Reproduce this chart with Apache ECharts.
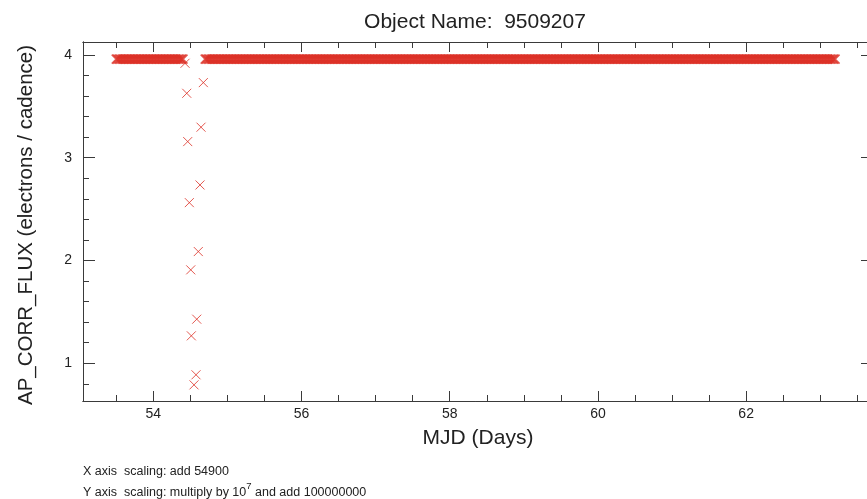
<!DOCTYPE html>
<html>
<head>
<meta charset="utf-8">
<script src="https://cdn.jsdelivr.net/npm/echarts@6/dist/echarts.min.js"></script>
<style>
  html, body { margin: 0; padding: 0; background: #fff; }
  #chart { width: 867px; height: 499px; }
</style>
</head>
<body>
<div id="chart"></div>
<script>
// ---- Data ----
// MJD - 54900 (days) of the flat, saturated band of points (long cadence ~0.02 d)
const bandTime = [
  53.50,53.52,53.54,53.56,53.58,53.60,53.62,53.64,53.66,53.68,53.70,53.72,53.74,53.76,53.78,53.80,53.82,53.84,53.86,53.88,53.90,53.92,53.94,53.96,53.98,
  54.00,54.02,54.04,54.06,54.08,54.10,54.12,54.14,54.16,54.18,54.20,54.22,54.24,54.26,54.28,54.30,54.32,54.34,54.36,54.38,54.40,
  54.70,54.72,54.74,54.76,54.78,54.80,54.82,54.84,54.86,54.88,54.90,54.92,54.94,54.96,54.98,
  55.00,55.02,55.04,55.06,55.08,55.10,55.12,55.14,55.16,55.18,55.20,55.22,55.24,55.26,55.28,55.30,55.32,55.34,55.36,55.38,55.40,55.42,55.44,55.46,55.48,
  55.50,55.52,55.54,55.56,55.58,55.60,55.62,55.64,55.66,55.68,55.70,55.72,55.74,55.76,55.78,55.80,55.82,55.84,55.86,55.88,55.90,55.92,55.94,55.96,55.98,
  56.00,56.02,56.04,56.06,56.08,56.10,56.12,56.14,56.16,56.18,56.20,56.22,56.24,56.26,56.28,56.30,56.32,56.34,56.36,56.38,56.40,56.42,56.44,56.46,56.48,
  56.50,56.52,56.54,56.56,56.58,56.60,56.62,56.64,56.66,56.68,56.70,56.72,56.74,56.76,56.78,56.80,56.82,56.84,56.86,56.88,56.90,56.92,56.94,56.96,56.98,
  57.00,57.02,57.04,57.06,57.08,57.10,57.12,57.14,57.16,57.18,57.20,57.22,57.24,57.26,57.28,57.30,57.32,57.34,57.36,57.38,57.40,57.42,57.44,57.46,57.48,
  57.50,57.52,57.54,57.56,57.58,57.60,57.62,57.64,57.66,57.68,57.70,57.72,57.74,57.76,57.78,57.80,57.82,57.84,57.86,57.88,57.90,57.92,57.94,57.96,57.98,
  58.00,58.02,58.04,58.06,58.08,58.10,58.12,58.14,58.16,58.18,58.20,58.22,58.24,58.26,58.28,58.30,58.32,58.34,58.36,58.38,58.40,58.42,58.44,58.46,58.48,
  58.50,58.52,58.54,58.56,58.58,58.60,58.62,58.64,58.66,58.68,58.70,58.72,58.74,58.76,58.78,58.80,58.82,58.84,58.86,58.88,58.90,58.92,58.94,58.96,58.98,
  59.00,59.02,59.04,59.06,59.08,59.10,59.12,59.14,59.16,59.18,59.20,59.22,59.24,59.26,59.28,59.30,59.32,59.34,59.36,59.38,59.40,59.42,59.44,59.46,59.48,
  59.50,59.52,59.54,59.56,59.58,59.60,59.62,59.64,59.66,59.68,59.70,59.72,59.74,59.76,59.78,59.80,59.82,59.84,59.86,59.88,59.90,59.92,59.94,59.96,59.98,
  60.00,60.02,60.04,60.06,60.08,60.10,60.12,60.14,60.16,60.18,60.20,60.22,60.24,60.26,60.28,60.30,60.32,60.34,60.36,60.38,60.40,60.42,60.44,60.46,60.48,
  60.50,60.52,60.54,60.56,60.58,60.60,60.62,60.64,60.66,60.68,60.70,60.72,60.74,60.76,60.78,60.80,60.82,60.84,60.86,60.88,60.90,60.92,60.94,60.96,60.98,
  61.00,61.02,61.04,61.06,61.08,61.10,61.12,61.14,61.16,61.18,61.20,61.22,61.24,61.26,61.28,61.30,61.32,61.34,61.36,61.38,61.40,61.42,61.44,61.46,61.48,
  61.50,61.52,61.54,61.56,61.58,61.60,61.62,61.64,61.66,61.68,61.70,61.72,61.74,61.76,61.78,61.80,61.82,61.84,61.86,61.88,61.90,61.92,61.94,61.96,61.98,
  62.00,62.02,62.04,62.06,62.08,62.10,62.12,62.14,62.16,62.18,62.20,62.22,62.24,62.26,62.28,62.30,62.32,62.34,62.36,62.38,62.40,62.42,62.44,62.46,62.48,
  62.50,62.52,62.54,62.56,62.58,62.60,62.62,62.64,62.66,62.68,62.70,62.72,62.74,62.76,62.78,62.80,62.82,62.84,62.86,62.88,62.90,62.92,62.94,62.96,62.98,
  63.00,63.02,63.04,63.06,63.08,63.10,63.12,63.14,63.16,63.18,63.20
];
// flux (x 1e7 + 1e8 electrons / cadence) of the band, one value per time above
const bandFlux = [
  3.96,3.96,3.96,3.96,3.96,3.96,3.96,3.96,3.96,3.96,3.96,3.96,3.96,3.96,3.96,3.96,3.96,3.96,3.96,3.96,3.96,3.96,3.96,3.96,3.96,
  3.96,3.96,3.96,3.96,3.96,3.96,3.96,3.96,3.96,3.96,3.96,3.96,3.96,3.96,3.96,3.96,3.96,3.96,3.96,3.96,3.96,
  3.96,3.96,3.96,3.96,3.96,3.96,3.96,3.96,3.96,3.96,3.96,3.96,3.96,3.96,3.96,
  3.96,3.96,3.96,3.96,3.96,3.96,3.96,3.96,3.96,3.96,3.96,3.96,3.96,3.96,3.96,3.96,3.96,3.96,3.96,3.96,3.96,3.96,3.96,3.96,3.96,
  3.96,3.96,3.96,3.96,3.96,3.96,3.96,3.96,3.96,3.96,3.96,3.96,3.96,3.96,3.96,3.96,3.96,3.96,3.96,3.96,3.96,3.96,3.96,3.96,3.96,
  3.96,3.96,3.96,3.96,3.96,3.96,3.96,3.96,3.96,3.96,3.96,3.96,3.96,3.96,3.96,3.96,3.96,3.96,3.96,3.96,3.96,3.96,3.96,3.96,3.96,
  3.96,3.96,3.96,3.96,3.96,3.96,3.96,3.96,3.96,3.96,3.96,3.96,3.96,3.96,3.96,3.96,3.96,3.96,3.96,3.96,3.96,3.96,3.96,3.96,3.96,
  3.96,3.96,3.96,3.96,3.96,3.96,3.96,3.96,3.96,3.96,3.96,3.96,3.96,3.96,3.96,3.96,3.96,3.96,3.96,3.96,3.96,3.96,3.96,3.96,3.96,
  3.96,3.96,3.96,3.96,3.96,3.96,3.96,3.96,3.96,3.96,3.96,3.96,3.96,3.96,3.96,3.96,3.96,3.96,3.96,3.96,3.96,3.96,3.96,3.96,3.96,
  3.96,3.96,3.96,3.96,3.96,3.96,3.96,3.96,3.96,3.96,3.96,3.96,3.96,3.96,3.96,3.96,3.96,3.96,3.96,3.96,3.96,3.96,3.96,3.96,3.96,
  3.96,3.96,3.96,3.96,3.96,3.96,3.96,3.96,3.96,3.96,3.96,3.96,3.96,3.96,3.96,3.96,3.96,3.96,3.96,3.96,3.96,3.96,3.96,3.96,3.96,
  3.96,3.96,3.96,3.96,3.96,3.96,3.96,3.96,3.96,3.96,3.96,3.96,3.96,3.96,3.96,3.96,3.96,3.96,3.96,3.96,3.96,3.96,3.96,3.96,3.96,
  3.96,3.96,3.96,3.96,3.96,3.96,3.96,3.96,3.96,3.96,3.96,3.96,3.96,3.96,3.96,3.96,3.96,3.96,3.96,3.96,3.96,3.96,3.96,3.96,3.96,
  3.96,3.96,3.96,3.96,3.96,3.96,3.96,3.96,3.96,3.96,3.96,3.96,3.96,3.96,3.96,3.96,3.96,3.96,3.96,3.96,3.96,3.96,3.96,3.96,3.96,
  3.96,3.96,3.96,3.96,3.96,3.96,3.96,3.96,3.96,3.96,3.96,3.96,3.96,3.96,3.96,3.96,3.96,3.96,3.96,3.96,3.96,3.96,3.96,3.96,3.96,
  3.96,3.96,3.96,3.96,3.96,3.96,3.96,3.96,3.96,3.96,3.96,3.96,3.96,3.96,3.96,3.96,3.96,3.96,3.96,3.96,3.96,3.96,3.96,3.96,3.96,
  3.96,3.96,3.96,3.96,3.96,3.96,3.96,3.96,3.96,3.96,3.96,3.96,3.96,3.96,3.96,3.96,3.96,3.96,3.96,3.96,3.96,3.96,3.96,3.96,3.96,
  3.96,3.96,3.96,3.96,3.96,3.96,3.96,3.96,3.96,3.96,3.96,3.96,3.96,3.96,3.96,3.96,3.96,3.96,3.96,3.96,3.96,3.96,3.96,3.96,3.96,
  3.96,3.96,3.96,3.96,3.96,3.96,3.96,3.96,3.96,3.96,3.96,3.96,3.96,3.96,3.96,3.96,3.96,3.96,3.96,3.96,3.96,3.96,3.96,3.96,3.96,
  3.96,3.96,3.96,3.96,3.96,3.96,3.96,3.96,3.96,3.96,3.96
];
// the dip (drop and recovery) around MJD 54954.5
const dipTime = [54.428,54.451,54.464,54.486,54.505,54.513,54.549,54.576,54.586,54.607,54.630,54.644,54.675];
const dipFlux = [3.919,3.627,3.157,2.563,1.909,1.267,0.790,0.888,1.429,2.087,2.735,3.297,3.731];

// axis ticks
const xMajorTicks = [54,56,58,60,62];
const xMinorTicks = [53.5,54.5,55,55.5,56.5,57,57.5,58.5,59,59.5,60.5,61,61.5,62.5,63,63.5];
const yMajorTicks = [1,2,3,4];
const yMinorTicks = [0.8,1.2,1.4,1.6,1.8,2.2,2.4,2.6,2.8,3.2,3.4,3.6,3.8];

const X_MIN = 53.051, X_MAX = 63.712;
const Y_MIN = 0.633, Y_MAX = 4.126;

// ---- Chart ----
const bandPoints = bandTime.map((t, i) => [t, bandFlux[i]]);
const dipPoints = dipTime.map((t, i) => [t, dipFlux[i]]);

const AX = '#3a3a3a';
const RED = '#dc2f26';
const FONT = 'Liberation Sans, Arial, sans-serif';
const CROSS = 'path://M0,0L10,10M10,0L0,10';

function xAx(pos, ticks, len, labels, extra) {
  return Object.assign({
    type: 'value', position: pos, min: X_MIN, max: X_MAX, gridIndex: 0,
    axisLine: { show: true, onZero: false, lineStyle: { color: AX, width: 1 } },
    axisTick: { show: true, inside: true, length: len, customValues: ticks, lineStyle: { color: AX, width: 1 } },
    axisLabel: labels ? { show: true, customValues: ticks, fontSize: 14, margin: 6, color: '#222', fontFamily: FONT } : { show: false },
    splitLine: { show: false }
  }, extra || {});
}
function yAx(pos, ticks, len, labels, extra) {
  return Object.assign({
    type: 'value', position: pos, min: Y_MIN, max: Y_MAX, gridIndex: 0,
    axisLine: { show: true, onZero: false, lineStyle: { color: AX, width: 1 } },
    axisTick: { show: true, inside: true, length: len, customValues: ticks, lineStyle: { color: AX, width: 1 } },
    axisLabel: labels ? { show: true, customValues: ticks, fontSize: 14, margin: 11, color: '#222', fontFamily: FONT } : { show: false },
    splitLine: { show: false }
  }, extra || {});
}

const chart = echarts.init(document.getElementById('chart'), null, { renderer: 'canvas' });
chart.setOption({
  animation: false,
  backgroundColor: '#fff',
  title: {
    text: 'Object Name:  9509207',
    left: 470, top: 7, textAlign: 'center',
    textStyle: { fontSize: 21, fontWeight: 'normal', color: '#222', fontFamily: FONT }
  },
  grid: { left: 83, top: 42, width: 790, height: 359, containLabel: false, outerBoundsMode: 'none' },
  xAxis: [
    xAx('bottom', xMajorTicks, 10, true, {
      name: 'MJD (Days)', nameLocation: 'middle', nameGap: 27,
      nameTextStyle: { fontSize: 21, color: '#222', fontFamily: FONT }
    }),
    xAx('bottom', xMinorTicks, 6, false),
    xAx('top', xMajorTicks, 10, false),
    xAx('top', xMinorTicks, 6, false)
  ],
  yAxis: [
    yAx('left', yMajorTicks, 12, true, {
      name: 'AP_CORR_FLUX (electrons / cadence)', nameLocation: 'middle', nameGap: 46,
      nameTextStyle: { fontSize: 20.5, color: '#222', fontFamily: FONT, padding: [0, 7, 0, 0] }
    }),
    yAx('left', yMinorTicks, 6, false),
    yAx('right', yMajorTicks, 12, false),
    yAx('right', yMinorTicks, 6, false)
  ],
  series: [{
    type: 'scatter',
    xAxisIndex: 0, yAxisIndex: 0,
    data: bandPoints,
    symbol: CROSS,
    symbolSize: 9,
    itemStyle: { color: 'rgba(0,0,0,0)', borderColor: RED, borderWidth: 1.6 },
    emphasis: { disabled: true },
    silent: true
  }, {
    type: 'scatter',
    xAxisIndex: 0, yAxisIndex: 0,
    data: dipPoints,
    symbol: CROSS,
    symbolSize: 9,
    itemStyle: { color: 'rgba(0,0,0,0)', borderColor: RED, borderWidth: 1 },
    emphasis: { disabled: true },
    silent: true
  }],
  graphic: [
    {
      type: 'text', left: 83, top: 465,
      style: { text: 'X axis  scaling: add 54900', fontSize: 12.5, fill: '#222', fontFamily: FONT }
    },
    {
      type: 'text', left: 83, top: 481,
      style: {
        text: '{a|Y axis  scaling: multiply by 10}{s|7}{a| and add 100000000}',
        fontFamily: FONT, fill: '#222',
        rich: {
          a: { fontSize: 12.5, lineHeight: 18, verticalAlign: 'bottom', fontFamily: FONT, fill: '#222' },
          s: { fontSize: 9.5, lineHeight: 18, verticalAlign: 'top', fontFamily: FONT, fill: '#222' }
        }
      }
    }
  ]
});
</script>
</body>
</html>
